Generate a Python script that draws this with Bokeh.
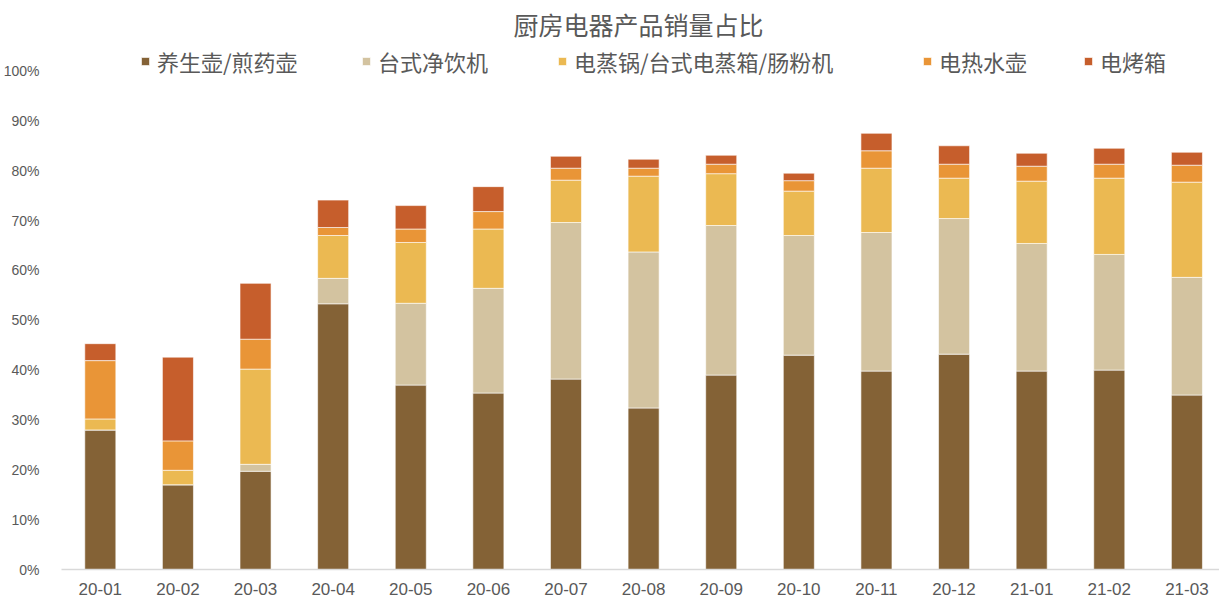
from bokeh.plotting import figure
from bokeh.models import (ColumnDataSource, FixedTicker, NumeralTickFormatter,
                          Label, Legend, LegendItem, Range1d)
from bokeh.embed import file_html
from bokeh.resources import INLINE

months = ["20-01", "20-02", "20-03", "20-04", "20-05", "20-06", "20-07", "20-08",
          "20-09", "20-10", "20-11", "20-12", "21-01", "21-02", "21-03"]
series_names = ["养生壶/煎药壶", "台式净饮机", "电蒸锅/台式电蒸箱/肠粉机", "电热水壶", "电烤箱"]
health_pot = [28.0, 17.0, 19.7, 53.3, 37.0, 35.4, 38.2, 32.4, 39.0, 43.0, 39.8, 43.2, 39.8, 40.0, 35.0]
water_disp = [0.0, 0.0, 1.4, 5.1, 16.4, 21.0, 31.4, 31.3, 30.0, 24.0, 27.8, 27.2, 25.6, 23.2, 23.6]
steamer = [2.2, 2.9, 19.1, 8.6, 12.2, 11.9, 8.5, 15.2, 10.4, 8.9, 12.9, 8.1, 12.5, 15.3, 19.1]
kettle = [11.7, 5.9, 6.0, 1.6, 2.7, 3.5, 2.4, 1.6, 1.9, 2.1, 3.5, 2.8, 3.0, 2.8, 3.4]
oven = [3.4, 16.8, 11.2, 5.5, 4.7, 5.0, 2.4, 1.8, 1.8, 1.5, 3.5, 3.7, 2.6, 3.2, 2.6]
colors = ["#846236", "#D3C3A0", "#EBB952", "#E99537", "#C65E2C"]

keys = ["s0", "s1", "s2", "s3", "s4"]
data = {"x": list(range(len(months)))}
for k, arr in zip(keys, [health_pot, water_disp, steamer, kettle, oven]):
    data[k] = [v / 100.0 for v in arr]
src = ColumnDataSource(data)

W, H = 1219, 597
p = figure(width=W, height=H, output_backend="svg", toolbar_location=None, tools="",
           x_range=Range1d(-0.5, 14.42), y_range=Range1d(0, 1.1414),
           min_border_left=61, min_border_right=0, min_border_top=0, min_border_bottom=28)
p.outline_line_color = None
p.xgrid.visible = False
p.ygrid.visible = False
p.background_fill_color = "white"

renderers = p.vbar_stack(keys, x="x", width=0.4, color=colors, source=src,
                         line_color="white", line_width=0.6)

# axes
p.xaxis.ticker = FixedTicker(ticks=list(range(len(months))))
p.xaxis.major_label_overrides = {i: m for i, m in enumerate(months)}
p.xaxis.axis_line_color = "#D9D9D9"
p.xaxis.axis_line_width = 1.5
p.xaxis.major_tick_line_color = None
p.xaxis.minor_tick_line_color = None
p.xaxis.major_label_standoff = 7
p.xaxis.major_label_text_font = "Liberation Sans"
p.xaxis.major_label_text_font_size = "17px"
p.xaxis.major_label_text_color = "#595959"

p.yaxis.ticker = FixedTicker(ticks=[i / 10 for i in range(11)])
p.yaxis.formatter = NumeralTickFormatter(format="0%")
p.yaxis.axis_line_color = None
p.yaxis.major_tick_line_color = None
p.yaxis.minor_tick_line_color = None
p.yaxis.major_label_standoff = 16
p.yaxis.major_label_text_font = "Liberation Sans"
p.yaxis.major_label_text_font_size = "14px"
p.yaxis.major_label_text_color = "#595959"

# title
p.add_layout(Label(x=577, y=546, x_units="screen", y_units="screen",
                   text="厨房电器产品销量占比", text_align="center", text_baseline="middle",
                   text_font="Noto Sans CJK SC", text_font_size="25px", text_color="#595959"))

# legend, one entry per block so each sits where it does in the reference
legend_x = [79, 300, 496, 861, 1022]
for name, r, lx in zip(series_names, renderers, legend_x):
    leg = Legend(items=[LegendItem(label=name, renderers=[r])], location=(lx, 492),
                 orientation="horizontal", padding=0, margin=0, spacing=0,
                 border_line_alpha=0, background_fill_alpha=0,
                 glyph_width=10, glyph_height=10, label_standoff=7, label_height=22,
                 label_text_font="Noto Sans CJK SC", label_text_font_size="22px",
                 label_text_color="#595959")
    p.add_layout(leg)

open("out.html", "w").write(file_html(p, INLINE))
